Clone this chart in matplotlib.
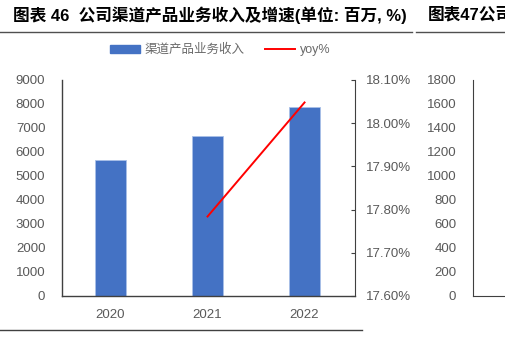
import matplotlib
matplotlib.use("Agg")
import matplotlib.pyplot as plt
from matplotlib.lines import Line2D
from matplotlib.patches import Patch

# Fuentes: latinas primero, CJK como respaldo
plt.rcParams['font.family'] = ['Liberation Sans', 'Noto Sans CJK SC']

# Datos
years = ["2020", "2021", "2022"]
revenue = [5670, 6670, 7890]          # 渠道产品业务收入 (百万)
yoy_years = ["2021", "2022"]
yoy = [17.784, 18.048]                # yoy%

left_ticks = [0, 1000, 2000, 3000, 4000, 5000, 6000, 7000, 8000, 9000]
right_ticks = [17.6, 17.7, 17.8, 17.9, 18.0, 18.1]
next_ticks = [0, 200, 400, 600, 800, 1000, 1200, 1400, 1600, 1800]

gray = "#595959"
axis_color = "#404040"
W, H = 505, 350

fig = plt.figure(figsize=(5.05, 3.5), dpi=100)

# Eje principal (barras)
ax = fig.add_axes([62 / W, 1 - 296 / H, (355 - 62) / W, 216 / H])
x = list(range(len(years)))
ax.bar(x, revenue, width=0.32, color="#4472C4", edgecolor="#A9C0E8", linewidth=0.6, zorder=2)
ax.set_xlim(-0.5, 2.52)
ax.set_ylim(0, 9000)
ax.set_yticks(left_ticks)
ax.set_xticks(x)
ax.set_xticklabels(years)
ax.tick_params(axis='y', length=0, pad=12, labelsize=9.5, labelcolor=gray)
ax.tick_params(axis='x', length=0, pad=9, labelsize=9.5, labelcolor=gray)
for s in ["top", "right"]:
    ax.spines[s].set_visible(False)
for s in ["left", "bottom"]:
    ax.spines[s].set_color(axis_color)
    ax.spines[s].set_linewidth(1.0)

# Eje secundario (yoy%)
ax2 = ax.twinx()
xi = [years.index(y) for y in yoy_years]
ax2.plot(xi, yoy, color="#FF0000", linewidth=1.4, zorder=3)
ax2.set_ylim(17.6, 18.1)
ax2.set_yticks(right_ticks)
ax2.set_yticklabels([f"{v:.2f}%" for v in right_ticks])
ax2.tick_params(axis='y', direction='in', length=3, pad=8, labelsize=9.5,
                labelcolor=gray, color=axis_color)
for s in ["top", "left", "bottom"]:
    ax2.spines[s].set_visible(False)
ax2.spines["right"].set_color(axis_color)

# Leyenda
handles = [Patch(facecolor="#4472C4", edgecolor="#4472C4"),
           Line2D([0], [0], color="#FF0000", linewidth=1.4)]
fig.legend(handles, ["渠道产品业务收入", "yoy%"], loc="center",
           bbox_to_anchor=(220 / W, 1 - 50 / H), ncol=2, frameon=False,
           fontsize=9, handlelength=2.4, handleheight=0.55, handletextpad=0.4,
           columnspacing=1.6, labelcolor="#6a6a6a")

# Gráfico siguiente (cortado a la derecha)
ax3 = fig.add_axes([473 / W, 1 - 296 / H, 100 / W, 216 / H])
ax3.set_ylim(0, 1800)
ax3.set_yticks(next_ticks)
ax3.set_xticks([])
ax3.tick_params(axis='y', length=0, pad=12, labelsize=9.5, labelcolor=gray)
for s in ["top", "right"]:
    ax3.spines[s].set_visible(False)
for s in ["left", "bottom"]:
    ax3.spines[s].set_color(axis_color)

# Títulos
fig.text(13 / W, 1 - 15 / H, "图表 46  公司渠道产品业务收入及增速(单位: 百万, %)",
         fontsize=12, fontweight="bold", va="center", ha="left", color="black")
fig.text(428 / W, 1 - 15 / H, "图表47公司",
         fontsize=12, fontweight="bold", va="center", ha="left", color="black")

# Líneas separadoras
fig.add_artist(Line2D([0, 412 / W], [1 - 32 / H] * 2, color="#505050", linewidth=1.0))
fig.add_artist(Line2D([416 / W, 1], [1 - 32 / H] * 2, color="#505050", linewidth=1.0))
fig.add_artist(Line2D([0, 362 / W], [1 - 330 / H] * 2, color="#404040", linewidth=1.0))

fig.savefig("out.png", dpi=100)
